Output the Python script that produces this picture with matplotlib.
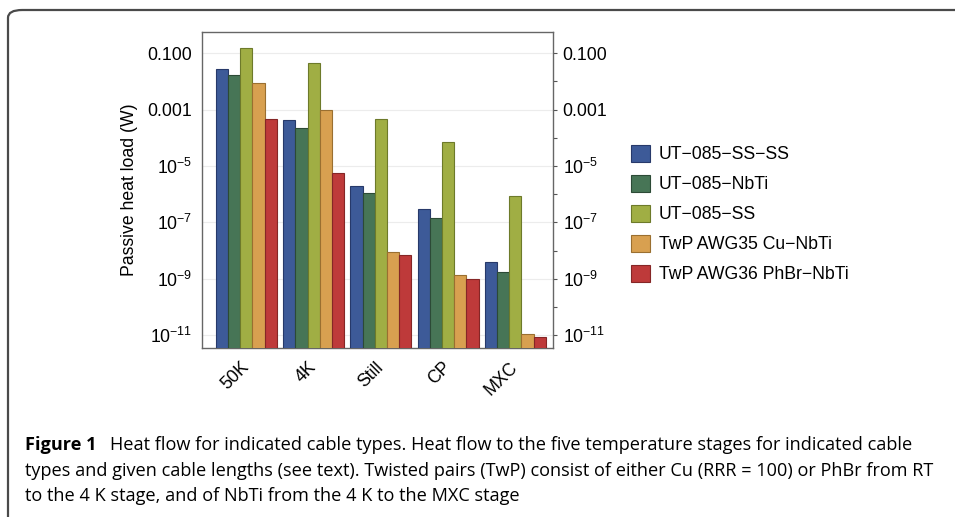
import numpy as np
import matplotlib
matplotlib.use("Agg")
from matplotlib import pyplot as plt
from matplotlib import font_manager
from matplotlib.patches import FancyBboxPatch, Patch
from matplotlib.ticker import FixedLocator, FixedFormatter, NullFormatter

# 数据
stages = ["50K", "4K", "Still", "CP", "MXC"]
cables = ["UT\u2212085\u2212SS\u2212SS", "UT\u2212085\u2212NbTi", "UT\u2212085\u2212SS",
          "TwP AWG35 Cu\u2212NbTi", "TwP AWG36 PhBr\u2212NbTi"]
ut_ss_ss = [2.7e-2, 4.4e-4, 2.0e-6, 3.1e-7, 3.8e-9]
ut_nbti = [1.7e-2, 2.3e-4, 1.1e-6, 1.4e-7, 1.8e-9]
ut_ss = [1.6e-1, 4.4e-2, 4.8e-4, 7.2e-5, 8.9e-7]
twp_cu = [8.5e-3, 1.0e-3, 8.9e-9, 1.35e-9, 1.1e-11]
twp_phbr = [4.5e-4, 5.9e-6, 7.0e-9, 1.0e-9, 8.7e-12]
series = [ut_ss_ss, ut_nbti, ut_ss, twp_cu, twp_phbr]

colors = ["#3D5A98", "#477556", "#A0AE44", "#D8A050", "#BE3A3A"]
edges = ["#27396a", "#2c4a36", "#6d7a2a", "#9a6f30", "#852626"]

ytick_vals = [1e-1, 1e-3, 1e-5, 1e-7, 1e-9, 1e-11]
ytick_labels = ["0.100", "0.001", "$10^{-5}$", "$10^{-7}$", "$10^{-9}$", "$10^{-11}$"]

caption_lines = [
    "Heat flow for indicated cable types. Heat flow to the five temperature stages for indicated cable",
    "types and given cable lengths (see text). Twisted pairs (TwP) consist of either Cu (RRR = 100) or PhBr from RT",
    "to the 4 K stage, and of NbTi from the 4 K to the MXC stage",
]

FS = 12.7  # 图内字号
plt.rcParams.update({
    "font.family": ["Liberation Sans", "DejaVu Sans"],
    "font.size": FS,
    "mathtext.fontset": "custom",
    "mathtext.rm": "Liberation Sans",
    "mathtext.it": "Liberation Sans",
})

names = {f.name for f in font_manager.fontManager.ttflist}
cap_font = "Liberation Sans Narrow" if "Liberation Sans Narrow" in names else "Open Sans"

fig = plt.figure(figsize=(9.55, 5.17), dpi=100)
W, H = 955, 517

# 外框 (右侧和下侧超出画面)
frame = FancyBboxPatch((8 / W, 1 - 10 / H - 560 / H), 1000 / W, 560 / H,
                       boxstyle="round,pad=0,rounding_size=0.015",
                       transform=fig.transFigure, fill=False,
                       edgecolor="#4a4a4a", linewidth=1.6, clip_on=False)
fig.patches.append(frame)

ax = fig.add_axes([202 / W, 1 - 348 / H, 351 / W, 316 / H])
ax.set_yscale("log")

n = len(series)
group_w = 0.91
bw = group_w / n
x = np.arange(len(stages))
for i, vals in enumerate(series):
    ax.bar(x - group_w / 2 + bw * (i + 0.5), vals, width=bw, color=colors[i],
           edgecolor=edges[i], linewidth=0.8, zorder=3)

ax.set_xlim(-0.66, 4.56)
ax.set_ylim(3.5e-12, 0.57)

ax.yaxis.set_major_locator(FixedLocator(ytick_vals))
ax.yaxis.set_major_formatter(FixedFormatter(ytick_labels))
ax.yaxis.set_minor_locator(FixedLocator([1e-2, 1e-4, 1e-6, 1e-8, 1e-10]))
ax.yaxis.set_minor_formatter(NullFormatter())
ax.grid(axis="y", which="major", color="#ececec", linewidth=0.8, zorder=0)
ax.tick_params(axis="y", which="both", left=False, right=True, labelleft=True,
               labelright=True, direction="out", length=3, width=0.8,
               color="#555555", labelsize=FS, pad=4)
ax.tick_params(axis="x", length=0, pad=12)
ax.set_xticks(x)
ax.set_xticklabels(stages, rotation=45, ha="right", va="center",
                   rotation_mode="anchor", fontsize=FS)
for s in ax.spines.values():
    s.set_color("#666666")
    s.set_linewidth(1.0)

ax.set_ylabel("Passive heat load (W)", fontsize=FS, labelpad=7)

# 图例
handles = [Patch(facecolor=c, edgecolor=e, linewidth=0.8) for c, e in zip(colors, edges)]
fig.legend(handles, cables, loc="upper left",
           bbox_to_anchor=(631 / W, 1 - 145 / H), frameon=False,
           fontsize=FS, handlelength=1.08, handleheight=1.08,
           handletextpad=0.5, labelspacing=0.66, borderpad=0, borderaxespad=0)

# 图注
cap_size = 13.1
ys = [450, 476, 501]
fam = [cap_font, "DejaVu Sans"]
t_fig = fig.text(25 / W, 1 - ys[0] / H, "Figure 1", fontsize=cap_size,
                 fontweight="bold", family=fam, va="baseline")
renderer = fig.canvas.get_renderer()
x_end = t_fig.get_window_extent(renderer).x1  # 粗体结尾位置 (像素)
fig.text((x_end + 13) / W, 1 - ys[0] / H, caption_lines[0], fontsize=cap_size,
         family=fam, va="baseline")
for y, line in zip(ys[1:], caption_lines[1:]):
    fig.text(25 / W, 1 - y / H, line, fontsize=cap_size, family=fam, va="baseline")

fig.savefig("out.png", dpi=100)
